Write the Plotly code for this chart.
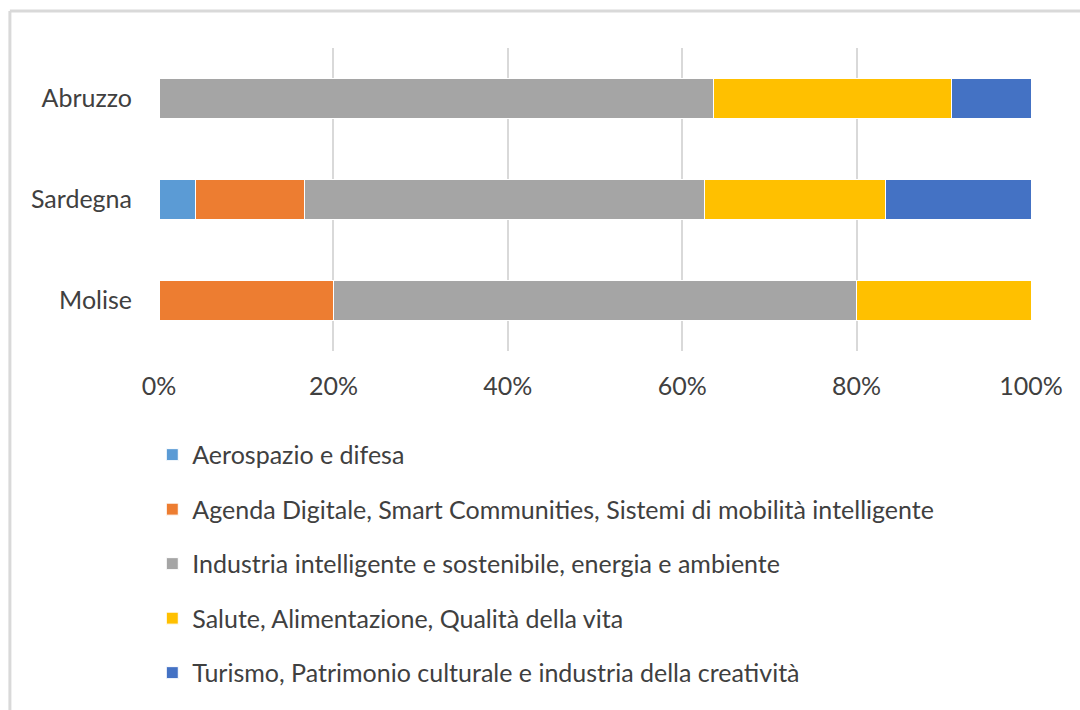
import plotly.graph_objects as go

regions = ["Abruzzo", "Sardegna", "Molise"]
series_names = [
    "Aerospazio e difesa",
    "Agenda Digitale, Smart Communities, Sistemi di mobilità intelligente",
    "Industria intelligente e sostenibile, energia e ambiente",
    "Salute, Alimentazione, Qualità della vita",
    "Turismo, Patrimonio culturale e industria della creatività",
]
aerospazio = [0.0, 4.2, 0.0]
agenda_digitale = [0.0, 12.5, 20.0]
industria = [63.6, 45.8, 60.0]
salute = [27.3, 20.8, 20.0]
turismo = [9.1, 16.7, 0.0]
series_values = [aerospazio, agenda_digitale, industria, salute, turismo]
colors = ["#5B9BD5", "#ED7D31", "#A5A5A5", "#FFC000", "#4472C4"]
tick_vals = [0, 20, 40, 60, 80, 100]
tick_text = ["0%", "20%", "40%", "60%", "80%", "100%"]

FONT = "Lato"
FS = 25

fig = go.Figure()
for i, (name, vals, col) in enumerate(zip(series_names, series_values, colors)):
    fig.add_trace(go.Bar(
        y=regions, x=vals, name=name, orientation="h",
        marker=dict(color=col, line=dict(color="white", width=1)),
        width=0.4, legendgroup=f"g{i}",
    ))

fig.update_layout(
    barmode="stack",
    width=1080, height=710,
    paper_bgcolor="white", plot_bgcolor="white",
    margin=dict(l=159, r=49, t=48, b=359, autoexpand=False),
    font=dict(family=FONT, size=FS, color="#404040"),
    xaxis=dict(range=[0, 100], tickvals=tick_vals, ticktext=tick_text,
               showgrid=True, gridcolor="#D9D9D9", gridwidth=2,
               zeroline=False, showline=False, ticks="", ticklabelstandoff=18,
               tickfont=dict(size=FS, color="#404040")),
    yaxis=dict(autorange="reversed", showgrid=False, zeroline=False,
               showline=False, ticks="", ticklabelstandoff=26,
               tickfont=dict(size=FS, color="#404040")),
    legend=dict(orientation="v", x=-0.0077, xanchor="left", y=-0.267, yanchor="top",
                traceorder="grouped", tracegroupgap=19,
                font=dict(size=FS, color="#404040"), itemwidth=30),
    showlegend=True,
    shapes=[
        dict(type="line", xref="paper", yref="paper", x0=-0.171, x1=1.2, y0=1.122, y1=1.122,
             line=dict(color="#D9D9D9", width=3)),
        dict(type="line", xref="paper", yref="paper", x0=-0.171, x1=-0.171, y0=1.122, y1=-1.3,
             line=dict(color="#D9D9D9", width=3)),
    ],
)
fig.write_html("out.html", config={"displayModeBar": False},
               post_script="document.body.style.margin='0';document.body.style.overflow='hidden';")
